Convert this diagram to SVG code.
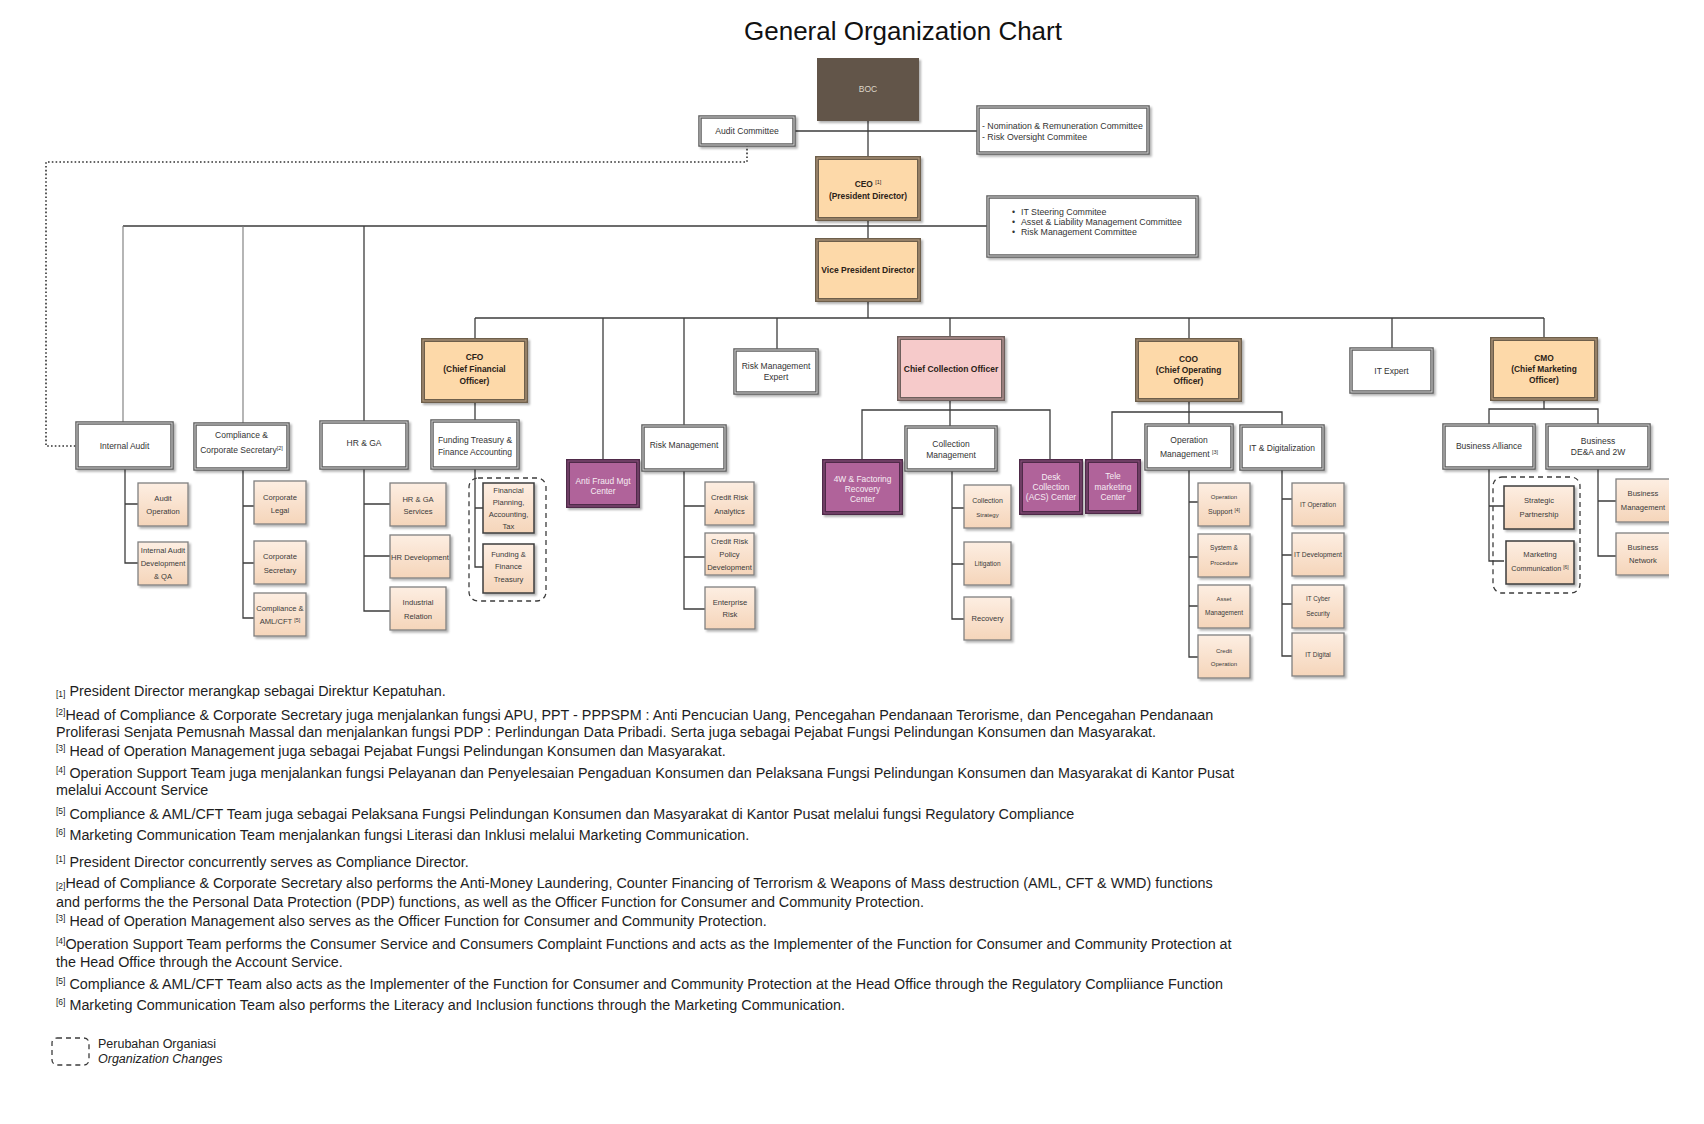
<svg xmlns="http://www.w3.org/2000/svg" width="1704" height="1124" viewBox="0 0 1704 1124">
<defs>
<filter id="sh" x="-20%" y="-20%" width="150%" height="150%"><feDropShadow dx="2" dy="2" stdDeviation="1.2" flood-color="#000" flood-opacity="0.3"/></filter>
<linearGradient id="cg" x1="0" y1="0" x2="0" y2="1"><stop offset="0" stop-color="#fdeee2"/><stop offset="1" stop-color="#f5d5ba"/></linearGradient>
<clipPath id="clipR"><rect x="0" y="0" width="1669" height="1124"/></clipPath>
</defs>
<style>
text{font-family:"Liberation Sans",Arial,sans-serif;fill:#333}
.t{font-size:8.5px;text-anchor:middle}
.tl{font-size:8.8px}
.tb{font-size:8.4px;font-weight:bold;text-anchor:middle;fill:#2b2218}
.tc{font-size:7.6px;text-anchor:middle;fill:#3a3a3a}
.tp{font-size:8.4px;text-anchor:middle;fill:#f6ecf3}
.w{fill:#fff;stroke:#5c5c5c;stroke-width:3.5}
.wi{fill:none;stroke:#d4d4d4;stroke-width:1}
.p{fill:#fdd9a9;stroke:#6e5e4c;stroke-width:4}
.pi{fill:none;stroke:#b9a083;stroke-width:1}
.m{fill:#b0649a;stroke:#4f2b48;stroke-width:4}
.mi{fill:none;stroke:#8e5280;stroke-width:1}
.k{fill:#f6caca;stroke:#6e5f5c;stroke-width:4}
.ki{fill:none;stroke:#c7a1a0;stroke-width:1}
.c{fill:url(#cg);stroke:#808080;stroke-width:1.3}
.cd{fill:url(#cg);stroke:#3c3c3c;stroke-width:1.5}
.ln{stroke:#3d3d3d;stroke-width:1.3;fill:none}
.lg{stroke:#7a7a7a;stroke-width:1.1;fill:none}
.dot{stroke:#333;stroke-width:1.6;stroke-dasharray:1.6 2.2;fill:none}
.dash{fill:none;stroke:#3c3c3c;stroke-width:1.3;stroke-dasharray:5 4}
.fn{font-size:14.35px;fill:#1e1e1e}
.sup{font-size:8.5px}
</style>
<rect width="1704" height="1124" fill="#fff"/>
<text x="903" y="40" style="font-size:26px;text-anchor:middle;fill:#111">General Organization Chart</text>

<g id="connectors">
<path class="ln" d="M868,121V158M794,131H978M123,226H988M868,219V240M868,300V318M475,318H1544"/>
<path class="lg" d="M123,226V423M243,226V424"/>
<path class="ln" d="M364,226V422"/>
<path class="ln" d="M475,318V340M603,318V461M684,318V426M777,318V350M950,318V338M1189,318V340M1392,318V349M1544,318V339"/>
<path class="ln" d="M475,401V421M475,468V567H483M475,508H483"/>
<path class="ln" d="M125,468V563H138M125,504H138"/>
<path class="ln" d="M243,469V618H254M243,506H254M243,563H254"/>
<path class="ln" d="M364,468V611H390M364,504H390M364,556H390"/>
<path class="ln" d="M684,470V609H705M684,506H705M684,557H705"/>
<path class="ln" d="M950,399V427M862,461V410H1050V461"/>
<path class="ln" d="M952,470V619H964M952,508H964M952,564H964"/>
<path class="ln" d="M1189,400V425M1112,461V412H1282V426"/>
<path class="ln" d="M1189,469V657H1198M1189,502H1198M1189,557H1198M1189,606H1198"/>
<path class="ln" d="M1282,469V656H1292M1282,499H1292M1282,555H1292M1282,604H1292"/>
<path class="ln" d="M1544,399V409M1489,425V409H1598V425"/>
<path class="ln" d="M1489,468V561H1504M1489,506H1504"/>
<path class="ln" d="M1598,468V556H1616M1598,501H1616"/>
<path class="dot" d="M747,145V162H46V446H77"/>
</g>

<g id="boc"><rect x="817" y="58" width="102" height="63" fill="#625548" filter="url(#sh)"/><text x="868" y="92" style="font-size:8.5px;text-anchor:middle;fill:#ddd5ca">BOC</text></g>
<g id="audit-committee"><rect class="w" x="700" y="117" width="94" height="28" filter="url(#sh)"/><rect class="wi" x="700" y="117" width="94" height="28"/><text class="t" x="747" y="134" style="font-size:8.6px">Audit Committee</text></g>
<g id="nomination"><rect class="w" x="978" y="107" width="170" height="46" filter="url(#sh)"/><rect class="wi" x="978" y="107" width="170" height="46"/><text class="tl" x="982" y="129">- Nomination &amp; Remuneration Committee</text><text class="tl" x="982" y="140">- Risk Oversight Commitee</text></g>
<g id="ceo"><rect class="p" x="817" y="158" width="102" height="61" filter="url(#sh)"/><rect class="pi" x="817" y="158" width="102" height="61"/><text class="tb" x="868" y="187">CEO <tspan style="font-size:5.5px;font-weight:normal" dy="-3">[1]</tspan></text><text class="tb" x="868" y="199">(President Director)</text></g>
<g id="it-steering"><rect class="w" x="988" y="197" width="209" height="59" filter="url(#sh)"/><rect class="wi" x="988" y="197" width="209" height="59"/><text class="tl" x="1012" y="215">•</text><text class="tl" x="1021" y="215">IT Steering Commitee</text><text class="tl" x="1012" y="225">•</text><text class="tl" x="1021" y="225">Asset &amp; Liability Management Committee</text><text class="tl" x="1012" y="235">•</text><text class="tl" x="1021" y="235">Risk Management Committee</text></g>
<g id="vpd"><rect class="p" x="817" y="240" width="102" height="60" filter="url(#sh)"/><rect class="pi" x="817" y="240" width="102" height="60"/><text class="tb" x="868" y="273" style="font-size:8.5px">Vice President Director</text></g>

<g id="internal-audit"><rect class="w" x="77" y="423" width="95" height="45" filter="url(#sh)"/><rect class="wi" x="77" y="423" width="95" height="45"/><text class="t" x="124.5" y="449">Internal Audit</text></g>
<g id="audit-operation"><rect class="c" x="138" y="483" width="50" height="43" filter="url(#sh)"/><text class="tc" x="163" y="501">Audit</text><text class="tc" x="163" y="514">Operation</text></g>
<g id="internal-audit-dev"><rect class="c" x="138" y="542" width="50" height="43" filter="url(#sh)"/><text class="tc" x="163" y="553">Internal Audit</text><text class="tc" x="163" y="566">Development</text><text class="tc" x="163" y="579">&amp; QA</text></g>

<g id="compliance"><rect class="w" x="195" y="424" width="93" height="45" filter="url(#sh)"/><rect class="wi" x="195" y="424" width="93" height="45"/><text class="t" x="241.5" y="438">Compliance &amp;</text><text class="t" x="241.5" y="453">Corporate  Secretary<tspan style="font-size:5.5px" dy="-3">[2]</tspan></text></g>
<g id="corporate-legal"><rect class="c" x="254" y="481" width="52" height="43" filter="url(#sh)"/><text class="tc" x="280" y="500">Corporate</text><text class="tc" x="280" y="513">Legal</text></g>
<g id="corporate-secretary"><rect class="c" x="254" y="541" width="52" height="43" filter="url(#sh)"/><text class="tc" x="280" y="559">Corporate</text><text class="tc" x="280" y="573">Secretary</text></g>
<g id="compliance-aml"><rect class="c" x="254" y="593" width="52" height="43" filter="url(#sh)"/><text class="tc" x="280" y="611">Compliance &amp;</text><text class="tc" x="280" y="624">AML/CFT <tspan style="font-size:5.5px" dy="-2">[5]</tspan></text></g>

<g id="hr-ga"><rect class="w" x="321" y="422" width="86" height="46" filter="url(#sh)"/><rect class="wi" x="321" y="422" width="86" height="46"/><text class="t" x="364" y="446">HR &amp; GA</text></g>
<g id="hr-ga-services"><rect class="c" x="390" y="483" width="56" height="43" filter="url(#sh)"/><text class="tc" x="418" y="502">HR &amp; GA</text><text class="tc" x="418" y="514">Services</text></g>
<g id="hr-development"><rect class="c" x="390" y="535" width="60" height="43" filter="url(#sh)"/><text class="tc" x="420" y="560">HR Development</text></g>
<g id="industrial-relation"><rect class="c" x="390" y="587" width="56" height="43" filter="url(#sh)"/><text class="tc" x="418" y="605">Industrial</text><text class="tc" x="418" y="619">Relation</text></g>

<g id="cfo"><rect class="p" x="423" y="340" width="103" height="61" filter="url(#sh)"/><rect class="pi" x="423" y="340" width="103" height="61"/><text class="tb" x="474.5" y="360">CFO</text><text class="tb" x="474.5" y="372">(Chief Financial</text><text class="tb" x="474.5" y="384">Officer)</text></g>
<g id="funding-treasury"><rect class="w" x="432" y="421" width="86" height="47" filter="url(#sh)"/><rect class="wi" x="432" y="421" width="86" height="47"/><text class="t" x="475" y="443">Funding Treasury &amp;</text><text class="t" x="475" y="455">Finance Accounting</text></g>
<g id="org-change-cfo"><rect class="dash" x="469" y="478" width="77" height="123" rx="9"/></g>
<g id="financial-planning"><rect class="cd" x="483" y="483" width="51" height="50" filter="url(#sh)"/><text class="tc" x="508.5" y="493">Financial</text><text class="tc" x="508.5" y="505">Planning,</text><text class="tc" x="508.5" y="517">Accounting,</text><text class="tc" x="508.5" y="529">Tax</text></g>
<g id="funding-finance-treasury"><rect class="cd" x="483" y="544" width="51" height="49" filter="url(#sh)"/><text class="tc" x="508.5" y="557">Funding &amp;</text><text class="tc" x="508.5" y="569">Finance</text><text class="tc" x="508.5" y="582">Treasury</text></g>

<g id="anti-fraud"><rect class="m" x="568" y="461" width="70" height="45" filter="url(#sh)"/><rect class="mi" x="568" y="461" width="70" height="45"/><text class="tp" x="603" y="484">Anti Fraud Mgt</text><text class="tp" x="603" y="494">Center</text></g>

<g id="risk-management"><rect class="w" x="643" y="426" width="82" height="44" filter="url(#sh)"/><rect class="wi" x="643" y="426" width="82" height="44"/><text class="t" x="684" y="448">Risk Management</text></g>
<g id="credit-risk-analytics"><rect class="c" x="705" y="482" width="49" height="43" filter="url(#sh)"/><text class="tc" x="729.5" y="500">Credit Risk</text><text class="tc" x="729.5" y="514">Analytics</text></g>
<g id="credit-risk-policy"><rect class="c" x="705" y="533" width="49" height="42" filter="url(#sh)"/><text class="tc" x="729.5" y="544">Credit Risk</text><text class="tc" x="729.5" y="557">Policy</text><text class="tc" x="729.5" y="570">Development</text></g>
<g id="enterprise-risk"><rect class="c" x="705" y="587" width="50" height="42" filter="url(#sh)"/><text class="tc" x="730" y="605">Enterprise</text><text class="tc" x="730" y="617">Risk</text></g>

<g id="risk-expert"><rect class="w" x="735" y="350" width="82" height="43" filter="url(#sh)"/><rect class="wi" x="735" y="350" width="82" height="43"/><text class="t" x="776" y="369">Risk Management</text><text class="t" x="776" y="380">Expert</text></g>

<g id="cco"><rect class="k" x="899" y="338" width="104" height="61" filter="url(#sh)"/><rect class="ki" x="899" y="338" width="104" height="61"/><text class="tb" x="951" y="372" style="font-size:8.5px">Chief Collection Officer</text></g>
<g id="4w-recovery"><rect class="m" x="824" y="461" width="77" height="52" filter="url(#sh)"/><rect class="mi" x="824" y="461" width="77" height="52"/><text class="tp" x="862.5" y="482">4W &amp; Factoring</text><text class="tp" x="862.5" y="492">Recovery</text><text class="tp" x="862.5" y="502">Center</text></g>
<g id="collection-management"><rect class="w" x="906" y="427" width="90" height="43" filter="url(#sh)"/><rect class="wi" x="906" y="427" width="90" height="43"/><text class="t" x="951" y="447">Collection</text><text class="t" x="951" y="458">Management</text></g>
<g id="desk-collection"><rect class="m" x="1021" y="461" width="60" height="52" filter="url(#sh)"/><rect class="mi" x="1021" y="461" width="60" height="52"/><text class="tp" x="1051" y="480">Desk</text><text class="tp" x="1051" y="490">Collection</text><text class="tp" x="1051" y="500">(ACS) Center</text></g>
<g id="collection-strategy"><rect class="c" x="964" y="485" width="47" height="43" filter="url(#sh)"/><text class="tc" x="987.5" y="503" style="font-size:7px">Collection</text><text class="tc" x="987.5" y="517" style="font-size:6px">Strategy</text></g>
<g id="litigation"><rect class="c" x="964" y="542" width="47" height="43" filter="url(#sh)"/><text class="tc" x="987.5" y="566" style="font-size:6.5px">Litigation</text></g>
<g id="recovery"><rect class="c" x="964" y="597" width="47" height="43" filter="url(#sh)"/><text class="tc" x="987.5" y="621">Recovery</text></g>

<g id="coo"><rect class="p" x="1137" y="340" width="103" height="60" filter="url(#sh)"/><rect class="pi" x="1137" y="340" width="103" height="60"/><text class="tb" x="1188.5" y="362">COO</text><text class="tb" x="1188.5" y="373">(Chief Operating</text><text class="tb" x="1188.5" y="384">Officer)</text></g>
<g id="telemarketing"><rect class="m" x="1087" y="461" width="52" height="51" filter="url(#sh)"/><rect class="mi" x="1087" y="461" width="52" height="51"/><text class="tp" x="1113" y="479">Tele</text><text class="tp" x="1113" y="489.5">marketing</text><text class="tp" x="1113" y="500">Center</text></g>
<g id="operation-management"><rect class="w" x="1146" y="425" width="86" height="44" filter="url(#sh)"/><rect class="wi" x="1146" y="425" width="86" height="44"/><text class="t" x="1189" y="443">Operation</text><text class="t" x="1189" y="457">Management <tspan style="font-size:5.5px" dy="-3">[3]</tspan></text></g>
<g id="it-digitalization"><rect class="w" x="1241" y="426" width="82" height="43" filter="url(#sh)"/><rect class="wi" x="1241" y="426" width="82" height="43"/><text class="t" x="1282" y="451">IT &amp; Digitalization</text></g>
<g id="operation-support"><rect class="c" x="1198" y="483" width="52" height="43" filter="url(#sh)"/><text class="tc" x="1224" y="499" style="font-size:6px">Operation</text><text class="tc" x="1224" y="514" style="font-size:7px">Support <tspan style="font-size:5px" dy="-2">[4]</tspan></text></g>
<g id="system-procedure"><rect class="c" x="1198" y="534" width="52" height="43" filter="url(#sh)"/><text class="tc" x="1224" y="550" style="font-size:6.5px">System &amp;</text><text class="tc" x="1224" y="565" style="font-size:6px">Procedure</text></g>
<g id="asset-management"><rect class="c" x="1198" y="585" width="52" height="43" filter="url(#sh)"/><text class="tc" x="1224" y="601" style="font-size:6px">Asset</text><text class="tc" x="1224" y="615" style="font-size:6.5px">Management</text></g>
<g id="credit-operation"><rect class="c" x="1198" y="635" width="52" height="43" filter="url(#sh)"/><text class="tc" x="1224" y="653" style="font-size:6px">Credit</text><text class="tc" x="1224" y="666" style="font-size:6px">Operation</text></g>
<g id="it-operation"><rect class="c" x="1292" y="483" width="52" height="43" filter="url(#sh)"/><text class="tc" x="1318" y="507" style="font-size:6.5px">IT Operation</text></g>
<g id="it-development"><rect class="c" x="1292" y="533" width="52" height="43" filter="url(#sh)"/><text class="tc" x="1318" y="557" style="font-size:6.8px">IT Development</text></g>
<g id="it-cyber"><rect class="c" x="1292" y="585" width="52" height="43" filter="url(#sh)"/><text class="tc" x="1318" y="601" style="font-size:6.3px">IT Cyber</text><text class="tc" x="1318" y="616" style="font-size:6.5px">Security</text></g>
<g id="it-digital"><rect class="c" x="1292" y="633" width="52" height="43" filter="url(#sh)"/><text class="tc" x="1318" y="657" style="font-size:6.5px">IT Digital</text></g>

<g id="it-expert"><rect class="w" x="1351" y="349" width="81" height="43" filter="url(#sh)"/><rect class="wi" x="1351" y="349" width="81" height="43"/><text class="t" x="1391.5" y="374">IT Expert</text></g>

<g id="cmo"><rect class="p" x="1492" y="339" width="104" height="60" filter="url(#sh)"/><rect class="pi" x="1492" y="339" width="104" height="60"/><text class="tb" x="1544" y="361">CMO</text><text class="tb" x="1544" y="372">(Chief Marketing</text><text class="tb" x="1544" y="383">Officer)</text></g>
<g id="business-alliance"><rect class="w" x="1444" y="425" width="90" height="43" filter="url(#sh)"/><rect class="wi" x="1444" y="425" width="90" height="43"/><text class="t" x="1489" y="449">Business Alliance</text></g>
<g id="business-dea"><rect class="w" x="1547" y="425" width="102" height="43" filter="url(#sh)"/><rect class="wi" x="1547" y="425" width="102" height="43"/><text class="t" x="1598" y="444">Business</text><text class="t" x="1598" y="455">DE&amp;A and 2W</text></g>
<g id="org-change-cmo"><rect class="dash" x="1493" y="477" width="87" height="116" rx="9"/></g>
<g id="strategic-partnership"><rect class="cd" x="1504" y="486" width="70" height="43" filter="url(#sh)"/><text class="tc" x="1539" y="503">Strategic</text><text class="tc" x="1539" y="517">Partnership</text></g>
<g id="marketing-communication"><rect class="cd" x="1506" y="541" width="68" height="43" filter="url(#sh)"/><text class="tc" x="1540" y="557">Marketing</text><text class="tc" x="1540" y="571" style="font-size:7.2px">Communication <tspan style="font-size:5px" dy="-2">[6]</tspan></text></g>
<g id="business-management" clip-path="url(#clipR)"><rect class="c" x="1616" y="479" width="56" height="43" filter="url(#sh)"/><text class="tc" x="1643" y="496">Business</text><text class="tc" x="1643" y="510">Management</text></g>
<g id="business-network" clip-path="url(#clipR)"><rect class="c" x="1616" y="533" width="56" height="42" filter="url(#sh)"/><text class="tc" x="1643" y="550">Business</text><text class="tc" x="1643" y="563">Network</text></g>

<g id="footnotes">
<text class="fn" x="56" y="696"><tspan class="sup" dy="1">[1]</tspan><tspan dy="-1"> President Director merangkap sebagai Direktur Kepatuhan.</tspan></text>
<text class="fn" x="56" y="720"><tspan class="sup" dy="-5">[2]</tspan><tspan dy="5">Head of Compliance &amp; Corporate Secretary juga menjalankan fungsi APU, PPT - PPPSPM : Anti Pencucian Uang, Pencegahan Pendanaan Terorisme, dan Pencegahan Pendanaan</tspan></text>
<text class="fn" x="56" y="737">Proliferasi Senjata Pemusnah Massal dan menjalankan fungsi PDP : Perlindungan Data Pribadi. Serta juga sebagai Pejabat Fungsi Pelindungan Konsumen dan Masyarakat.</text>
<text class="fn" x="56" y="756"><tspan class="sup" dy="-5">[3]</tspan><tspan dy="5"> Head of Operation Management juga sebagai Pejabat Fungsi Pelindungan Konsumen dan Masyarakat.</tspan></text>
<text class="fn" x="56" y="778"><tspan class="sup" dy="-5">[4]</tspan><tspan dy="5"> Operation Support Team juga menjalankan fungsi Pelayanan dan Penyelesaian Pengaduan Konsumen dan Pelaksana Fungsi Pelindungan Konsumen dan Masyarakat di Kantor Pusat</tspan></text>
<text class="fn" x="56" y="795">melalui Account Service</text>
<text class="fn" x="56" y="819"><tspan class="sup" dy="-5">[5]</tspan><tspan dy="5"> Compliance &amp; AML/CFT Team juga sebagai Pelaksana Fungsi Pelindungan Konsumen dan Masyarakat di Kantor Pusat melalui fungsi Regulatory Compliance</tspan></text>
<text class="fn" x="56" y="840"><tspan class="sup" dy="-5">[6]</tspan><tspan dy="5"> Marketing Communication Team menjalankan fungsi Literasi dan Inklusi melalui Marketing Communication.</tspan></text>
<text class="fn" x="56" y="867"><tspan class="sup" dy="-5">[1]</tspan><tspan dy="5"> President Director concurrently serves as Compliance Director.</tspan></text>
<text class="fn" x="56" y="888"><tspan class="sup" dy="1">[2]</tspan><tspan dy="-1">Head of Compliance &amp; Corporate Secretary also performs the Anti-Money Laundering, Counter Financing of Terrorism &amp; Weapons of Mass destruction (AML, CFT &amp; WMD) functions</tspan></text>
<text class="fn" x="56" y="907">and performs the the Personal Data Protection (PDP) functions, as well as the Officer Function for Consumer and Community Protection.</text>
<text class="fn" x="56" y="926"><tspan class="sup" dy="-5">[3]</tspan><tspan dy="5">  Head of Operation Management also serves as the Officer Function for Consumer and Community Protection.</tspan></text>
<text class="fn" x="56" y="949"><tspan class="sup" dy="-5">[4]</tspan><tspan dy="5">Operation Support Team performs the Consumer Service and Consumers Complaint Functions and acts as the Implementer of the Function for Consumer and Community Protection at</tspan></text>
<text class="fn" x="56" y="967">the Head Office through the Account Service.</text>
<text class="fn" x="56" y="989"><tspan class="sup" dy="-5">[5]</tspan><tspan dy="5"> Compliance &amp; AML/CFT Team also acts as the Implementer of the Function for Consumer and Community Protection at the Head Office through the Regulatory Compliiance Function</tspan></text>
<text class="fn" x="56" y="1010"><tspan class="sup" dy="-5">[6]</tspan><tspan dy="5"> Marketing Communication Team also performs the Literacy and Inclusion functions through the Marketing Communication.</tspan></text>
</g>

<g id="legend">
<rect class="dash" x="52" y="1038" width="37" height="27" rx="5"/>
<text x="98" y="1048" style="font-size:12.5px;fill:#222">Perubahan Organiasi</text>
<text x="98" y="1063" style="font-size:12.5px;font-style:italic;fill:#222">Organization Changes</text>
</g>
</svg>
